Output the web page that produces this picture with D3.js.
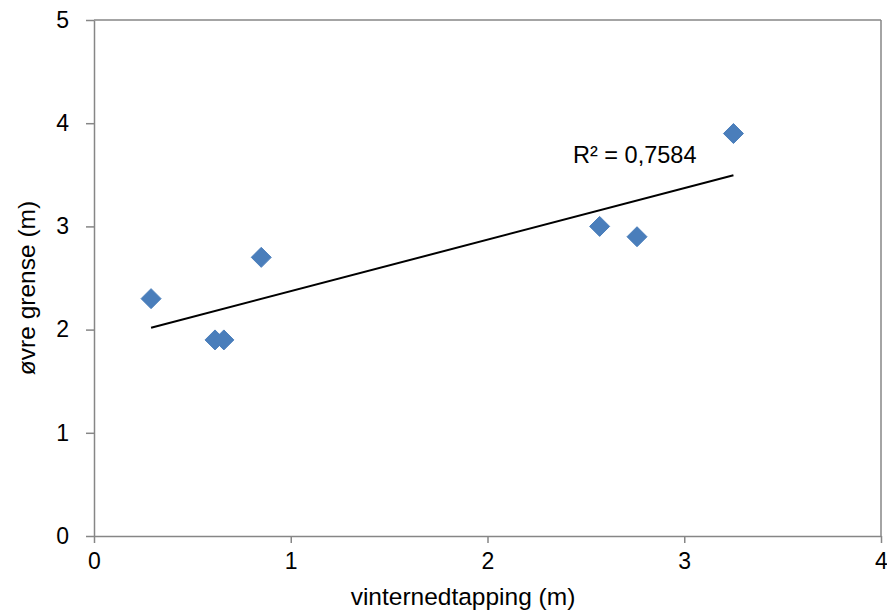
<!DOCTYPE html>
<html><head><meta charset="utf-8">
<script src="https://cdn.jsdelivr.net/npm/d3@7"></script>
<style>
body{margin:0;background:#fff;}
text{font-family:"Liberation Sans",Arial,sans-serif;fill:#000;}
</style></head>
<body><svg id="c" width="887" height="612"></svg>
<script>
const xValues = [0.29, 0.615, 0.66, 0.85, 2.57, 2.76, 3.25];
const yValues = [2.3, 1.9, 1.9, 2.7, 3.0, 2.9, 3.9];
const xTicks = [0, 1, 2, 3, 4];
const yTicks = [0, 1, 2, 3, 4, 5];
const xTitle = "vinternedtapping (m)";
const yTitle = "øvre grense (m)";
const r2Label = "R² = 0,7584";

const svg = d3.select("#c");
const L = 94, R = 881, T = 20, B = 536;
const x = d3.scaleLinear().domain([0, 4]).range([L, R]);
const y = d3.scaleLinear().domain([0, 5]).range([B, T]);

// plot border top/right
svg.append("line").attr("x1", L).attr("x2", R).attr("y1", T).attr("y2", T).attr("stroke", "#868686").attr("stroke-width", 1.5);
svg.append("line").attr("x1", R).attr("x2", R).attr("y1", T).attr("y2", B).attr("stroke", "#868686").attr("stroke-width", 1.5);

const xAxis = svg.append("g").attr("transform", `translate(0,${B})`)
  .call(d3.axisBottom(x).tickValues(xTicks).tickFormat(d3.format("d")).tickSize(7).tickPadding(10).tickSizeOuter(0));
const yAxis = svg.append("g").attr("transform", `translate(${L},0)`)
  .call(d3.axisLeft(y).tickValues(yTicks).tickFormat(d3.format("d")).tickSize(8).tickPadding(17).tickSizeOuter(0));
[xAxis, yAxis].forEach(g => {
  g.select(".domain").attr("stroke", "#868686").attr("stroke-width", 1.5);
  g.selectAll(".tick line").attr("stroke", "#868686").attr("stroke-width", 1.5);
  g.selectAll(".tick text").style("font-size", "23px").style("font-family", "Liberation Sans, Arial, sans-serif").attr("fill", "#000");
});

// trendline (least squares)
const n = xValues.length;
const mx = d3.mean(xValues), my = d3.mean(yValues);
let sxy = 0, sxx = 0;
for (let i = 0; i < n; i++) { sxy += (xValues[i]-mx)*(yValues[i]-my); sxx += (xValues[i]-mx)**2; }
const slope = sxy/sxx, icpt = my - slope*mx;
const x0 = d3.min(xValues), x1 = d3.max(xValues);
svg.append("line").attr("x1", x(x0)).attr("y1", y(icpt+slope*x0)).attr("x2", x(x1)).attr("y2", y(icpt+slope*x1))
  .attr("stroke", "#000").attr("stroke-width", 2);

// markers
svg.append("g").selectAll("path").data(xValues.map((v,i)=>[v,yValues[i]])).join("path")
  .attr("transform", d => `translate(${x(d[0])},${y(d[1])})`)
  .attr("d", "M0,-10L10,0L0,10L-10,0Z")
  .attr("fill", "#4A7EBB").attr("stroke", "#4A7EBB").attr("stroke-width", 1);

svg.append("text").attr("x", 573).attr("y", 163).style("font-size", "23.5px").text(r2Label);

svg.append("text").attr("x", 463).attr("y", 605).attr("text-anchor", "middle").style("font-size", "24.5px").text(xTitle);
svg.append("text").attr("transform", "translate(35,288) rotate(-90)").attr("text-anchor", "middle").style("font-size", "24.5px").text(yTitle);
</script></body></html>
